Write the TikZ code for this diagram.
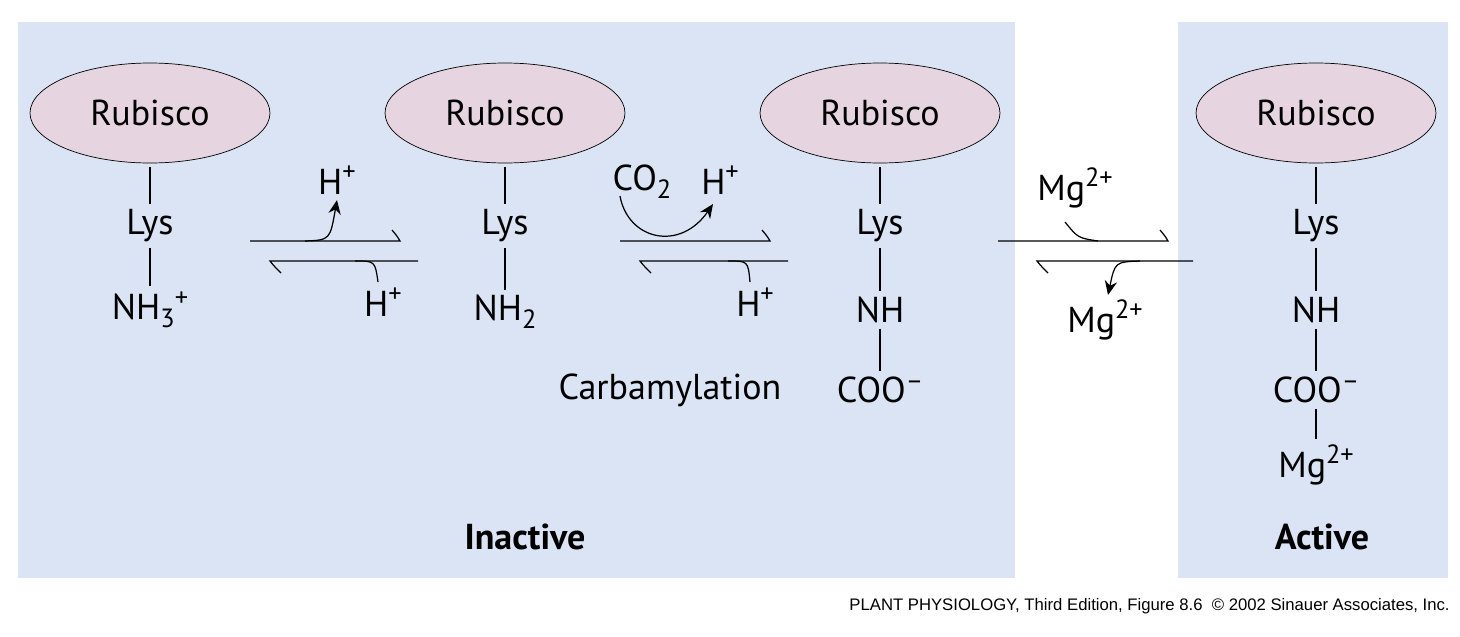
\documentclass[tikz,border=0pt]{standalone}
\usepackage{fontspec}
\setmainfont{PT Sans}
\newfontfamily\capfont{Liberation Sans}
\usetikzlibrary{arrows.meta,shapes.geometric}
\definecolor{panel}{HTML}{DAE4F4}
\definecolor{enzyme}{HTML}{E6D5E0}
\newcommand{\chup}[1]{\raisebox{.75ex}{\fontsize{15}{15}\selectfont #1}}
\newcommand{\chdn}[1]{\raisebox{-.45ex}{\fontsize{15}{15}\selectfont #1}}
\tikzset{
  px/.style={x=0.02cm,y=-0.02cm},
  chem/.style={inner sep=1pt,font=\fontsize{20.5}{24}\selectfont},
  enz/.style={ellipse,draw,fill=enzyme,minimum width=4.8cm,minimum height=2cm,font=\fontsize{20.5}{24}\selectfont},
  bond/.style={line width=0.6pt,shorten <=2pt,shorten >=2pt},
  rxn/.style={line width=0.7pt},
  side/.style={line width=0.7pt,-{Stealth[length=8pt,width=7pt]}}
}
\begin{document}
\begin{tikzpicture}[px]
  \useasboundingbox (0,0) rectangle (1460,636);
  \fill[panel] (18,22) rectangle (1015,578);
  \fill[panel] (1178,22) rectangle (1448,578);

  % enzymes and chains
  \node[enz] (r1) at (150,113) {Rubisco};
  \node[chem] (l1) at (150,226) {Lys};
  \node[chem] (n1) at (150,310) {NH\chdn{3}\chup{+}};
  \node[enz] (r2) at (505,113) {Rubisco};
  \node[chem] (l2) at (505,226) {Lys};
  \node[chem] (n2) at (505,312) {NH\chdn{2}};
  \node[enz] (r3) at (880,113) {Rubisco};
  \node[chem] (l3) at (880,226) {Lys};
  \node[chem] (n3) at (880,310) {NH};
  \node[chem] (c3) at (880,390) {COO\chup{–}};
  \node[enz] (r4) at (1316,113) {Rubisco};
  \node[chem] (l4) at (1316,226) {Lys};
  \node[chem] (n4) at (1316,310) {NH};
  \node[chem] (c4) at (1316,390) {COO\chup{–}};
  \node[chem] (m4) at (1316,465) {Mg\chup{2+}};
  \draw[bond] (r1) -- (l1);
  \draw[bond] (l1) -- (n1);
  \draw[bond] (r2) -- (l2);
  \draw[bond] (l2) -- (n2);
  \draw[bond] (r3) -- (l3);
  \draw[bond] (l3) -- (n3);
  \draw[bond] (n3) -- (c3);
  \draw[bond] (r4) -- (l4);
  \draw[bond] (l4) -- (n4);
  \draw[bond] (n4) -- (c4);
  \draw[bond] (c4) -- (m4);

  % step 1
  \coordinate (a1) at (250,241); \coordinate (b1) at (400,241);
  \coordinate (c1) at (418,261); \coordinate (d1) at (270,261);
  \draw[rxn] (a1) -- (b1) .. controls (397,236) .. (392,230);
  \draw[rxn] (c1) -- (d1) .. controls (274,266) .. (281,273);
  \node[chem] (h1a) at (337,180) {H\chup{+}};
  \node[chem] (h1b) at (383,302) {H\chup{+}};
  \coordinate (s1) at (305,241); \coordinate (e1) at (337,200);
  \draw[side] (s1) .. controls (330,240) .. (e1);
  \coordinate (s1b) at (355,261); \coordinate (e1b) at (378,282);
  \draw[rxn] (s1b) .. controls (375,261) .. (e1b);

  % step 2
  \coordinate (a2) at (620,241); \coordinate (b2) at (770,241);
  \coordinate (c2) at (788,261); \coordinate (d2) at (640,261);
  \draw[rxn] (a2) -- (b2) .. controls (767,236) .. (762,230);
  \draw[rxn] (c2) -- (d2) .. controls (644,266) .. (651,273);
  \node[chem] (co2) at (642,182) {CO\chdn{2}};
  \node[chem] (h2a) at (720,180) {H\chup{+}};
  \node[chem] (h2b) at (755,302) {H\chup{+}};
  \coordinate (s2) at (620,196); \coordinate (e2) at (713,204);
  \draw[side] (s2) .. controls (628,240) and (680,252) .. (e2);
  \coordinate (s2b) at (728,261); \coordinate (e2b) at (750,282);
  \draw[rxn] (s2b) .. controls (748,261) .. (e2b);
  \node[chem] (carb) at (670,390) {Carbamylation};

  % step 3
  \coordinate (a3) at (998,241); \coordinate (b3) at (1168,241);
  \coordinate (c3r) at (1193,261); \coordinate (d3) at (1037,261);
  \draw[rxn] (a3) -- (b3) .. controls (1165,236) .. (1160,230);
  \draw[rxn] (c3r) -- (d3) .. controls (1041,266) .. (1048,273);
  \node[chem] (mg1) at (1075,188) {Mg\chup{2+}};
  \node[chem] (mg2) at (1105,320) {Mg\chup{2+}};
  \coordinate (s3) at (1065,222); \coordinate (e3) at (1098,241);
  \draw[rxn] (s3) .. controls (1078,238) .. (e3);
  \coordinate (s3b) at (1140,261); \coordinate (e3b) at (1108,295);
  \draw[side] (s3b) .. controls (1115,262) .. (e3b);

  % labels
  \node[chem,font=\fontsize{20.5}{24}\bfseries] (inact) at (525,537) {Inactive};
  \node[chem,font=\fontsize{20.5}{24}\bfseries] (act) at (1322,537) {Active};
  \node[anchor=east,inner sep=0pt,font=\capfont\fontsize{9.5}{11}\selectfont] (cap) at (1450,606)
    {PLANT PHYSIOLOGY, Third Edition, Figure 8.6 \ © 2002 Sinauer Associates, Inc.};
\end{tikzpicture}
\end{document}
